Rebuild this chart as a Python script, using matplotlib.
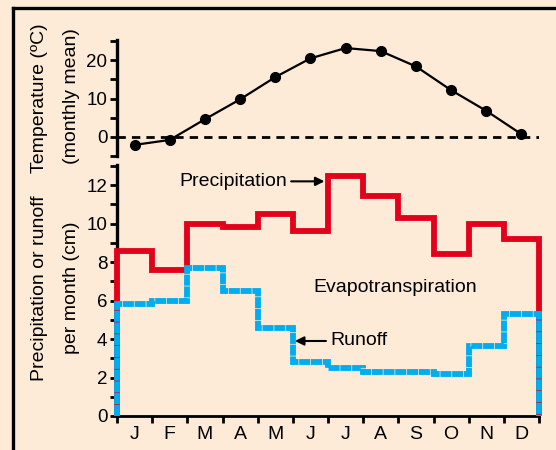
import numpy as np
import matplotlib
matplotlib.use('Agg')
import matplotlib.pyplot as plt
from matplotlib.lines import Line2D
from matplotlib.ticker import MultipleLocator, FixedLocator

months = ['J', 'F', 'M', 'A', 'M', 'J', 'J', 'A', 'S', 'O', 'N', 'D']
temperature = [-2.1, -0.8, 4.6, 9.8, 15.6, 20.5, 23.2, 22.4, 18.4, 12.2, 6.8, 0.7]
precipitation = [8.6, 7.6, 10.0, 9.85, 10.5, 9.6, 12.5, 11.45, 10.3, 8.4, 10.0, 9.2]
runoff = [5.8, 6.0, 7.7, 6.5, 4.6, 2.8, 2.5, 2.3, 2.3, 2.2, 3.65, 5.3]

bg = '#fdebd8'
red = '#e2001a'
blue = '#00aeef'

plt.rcParams['font.family'] = ['Liberation Sans', 'DejaVu Sans']

fig = plt.figure(figsize=(5.56, 4.5), dpi=100)
fig.set_facecolor(bg)

# frame round the figure (top and left only visible)
fig.add_artist(Line2D([13/556, 13/556], [0, 1 - 8/450], color='black', lw=2.4))
fig.add_artist(Line2D([13/556, 1], [1 - 8/450, 1 - 8/450], color='black', lw=2.4))

left = 117/556
width = 539/556 - left
ax_t = fig.add_axes([left, 1 - 156/450, width, (156 - 40)/450])
ax_b = fig.add_axes([left, 1 - 416/450, width, (416 - 165)/450])

x_mid = np.arange(12) + 0.5
edges = np.arange(13)

for ax in (ax_t, ax_b):
    ax.set_facecolor('none')
    ax.set_xlim(0, 12)
    for s in ('top', 'right'):
        ax.spines[s].set_visible(False)
    ax.spines['left'].set_linewidth(2.4)
    ax.tick_params(axis='y', which='major', direction='out', length=5, width=2,
                   labelsize=13.5, pad=2)
    ax.tick_params(axis='y', which='minor', direction='out', length=5, width=2)

# temperature panel
ax_t.spines['bottom'].set_visible(False)
ax_t.set_ylim(-5, 25.3)
ax_t.yaxis.set_major_locator(FixedLocator([0, 10, 20]))
ax_t.yaxis.set_minor_locator(FixedLocator([-5, 5, 15, 25]))
ax_t.set_xticks([])
ax_t.axhline(0, color='black', lw=2, dashes=(3, 2.2))
ax_t.plot(x_mid, temperature, color='black', lw=1.6, marker='o', ms=7, clip_on=False)

# precipitation / runoff panel
ax_b.set_ylim(0, 13.05)
ax_b.spines['bottom'].set_linewidth(2)
ax_b.yaxis.set_major_locator(MultipleLocator(2))
ax_b.yaxis.set_minor_locator(MultipleLocator(1))
ax_b.xaxis.set_major_locator(FixedLocator(edges))
ax_b.xaxis.set_minor_locator(FixedLocator(x_mid))
ax_b.xaxis.set_major_formatter(plt.NullFormatter())
ax_b.xaxis.set_minor_formatter(plt.FixedFormatter(months))
ax_b.tick_params(axis='x', which='major', direction='out', length=5, width=2)
ax_b.tick_params(axis='x', which='minor', length=0, labelsize=14, pad=7)

ax_b.stairs(precipitation, edges, baseline=0, color=red, lw=4.2,
            joinstyle='miter', clip_on=False, zorder=3)
ax_b.stairs(runoff, edges, baseline=0, color=blue, lw=4.2,
            linestyle=(0, (1.9, 0.12)), joinstyle='miter', clip_on=False, zorder=4)

ax_b.annotate('Precipitation', xy=(5.9, 12.2), xytext=(1.77, 12.2),
              fontsize=14, va='center', ha='left',
              arrowprops=dict(arrowstyle='-|>', color='black', lw=1.5,
                              mutation_scale=13, shrinkA=1, shrinkB=0))
ax_b.annotate('Runoff', xy=(5.06, 3.9), xytext=(6.06, 3.9),
              fontsize=14, va='center', ha='left',
              arrowprops=dict(arrowstyle='-|>', color='black', lw=1.5,
                              mutation_scale=13, shrinkA=1, shrinkB=0))
ax_b.text(7.91, 6.7, 'Evapotranspiration', fontsize=14, ha='center', va='center')

# axis titles
fig.text(40/556, 1 - 98/450, 'Temperature (ºC)', rotation=90, fontsize=14,
         ha='center', va='center')
fig.text(72/556, 1 - 96/450, '(monthly mean)', rotation=90, fontsize=14,
         ha='center', va='center')
fig.text(40/556, 1 - 288/450, 'Precipitation or runoff', rotation=90, fontsize=14,
         ha='center', va='center')
fig.text(72/556, 1 - 288/450, 'per month (cm)', rotation=90, fontsize=14,
         ha='center', va='center')

fig.savefig('out.png', dpi=100, facecolor=bg)
